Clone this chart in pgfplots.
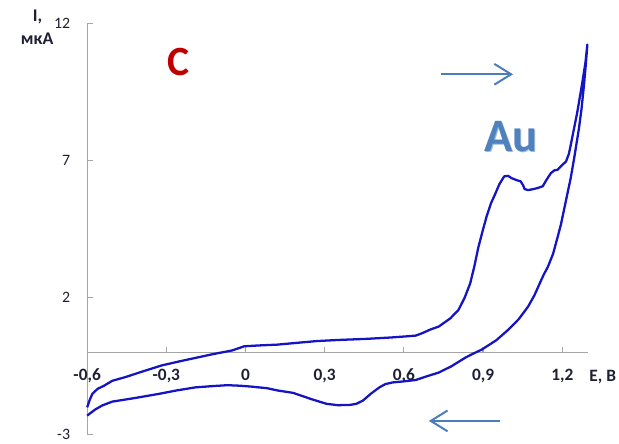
\documentclass[border=0pt]{standalone}
\usepackage{pgfplots}
\pgfplotsset{compat=1.18}
\usepackage{fontspec}
\setmainfont{Carlito}
\usetikzlibrary{arrows.meta}

\definecolor{cvblue}{HTML}{1414C4}
\definecolor{axgray}{HTML}{A6A6A6}
\definecolor{arrowblue}{HTML}{4A7EBB}
\definecolor{labred}{HTML}{C00000}
\definecolor{aublue}{HTML}{4F81BD}
\definecolor{labdark}{HTML}{1F1F33}

\begin{document}
\begin{tikzpicture}
\begin{axis}[
  scale only axis, width=505.7bp, height=415bp,
  xmin=-0.6, xmax=1.2975, ymin=-3, ymax=12,
  axis x line=middle, axis y line=left,
  axis line style={-, draw=axgray, line width=1.2bp},
  tick style={draw=axgray, line width=1.2bp},
  tick align=inside, major tick length=6bp,
  hide obscured x ticks=false,
  xtick={-0.6,-0.3,0,0.3,0.6,0.9,1.2},
  xticklabels={{-0,6},{-0,3},0,{0,3},{0,6},{0,9},{1,2}},
  ytick={-3,2,7,12}, yticklabels={-3,2,7,12},
  xticklabel style={anchor=base, yshift=-28.6bp, text=labdark,
    font=\fontsize{17.5bp}{20bp}\selectfont\bfseries},
  yticklabel style={anchor=east, inner sep=0pt, xshift=-17bp, text=labdark,
    font=\fontsize{16bp}{19bp}\selectfont},
  clip=false,
]
\coordinate (O) at (rel axis cs:0,0);
% cyclic voltammogram: anodic sweep, then cathodic return
\addplot[cvblue, line width=2.3bp, line join=round] coordinates {
(-0.6,-2.0) (-0.59,-1.72) (-0.58,-1.5) (-0.56,-1.32) (-0.536,-1.21)
(-0.505,-1.03) (-0.45,-0.88) (-0.4,-0.72) (-0.318,-0.47) (-0.25,-0.32)
(-0.13,-0.07) (-0.05,0.08) (-0.005,0.23) (0.05,0.26) (0.12,0.29)
(0.2,0.36) (0.27,0.42) (0.35,0.46) (0.457,0.5) (0.55,0.55)
(0.607,0.59) (0.645,0.62) (0.67,0.71) (0.7,0.84) (0.732,0.95)
(0.776,1.25) (0.807,1.56) (0.83,2.0) (0.851,2.52) (0.867,3.15)
(0.882,3.84) (0.9,4.5) (0.914,4.99) (0.93,5.45) (0.945,5.77)
(0.962,6.15) (0.98,6.43) (0.995,6.45) (1.007,6.37) (1.025,6.3)
(1.042,6.25) (1.052,6.1) (1.057,5.97) (1.07,5.93) (1.082,5.95)
(1.105,6.0) (1.126,6.07) (1.14,6.3) (1.157,6.55) (1.17,6.65)
(1.182,6.67) (1.2,6.85) (1.214,6.97) (1.225,7.25) (1.232,7.57)
(1.245,8.2) (1.257,8.78) (1.276,9.86) (1.288,10.6) (1.295,11.24)
(1.29,10.6) (1.282,9.74) (1.273,8.9) (1.263,8.17) (1.245,7.09)
(1.232,6.37) (1.214,5.55) (1.195,4.68) (1.182,4.2) (1.165,3.6)
(1.145,3.12) (1.13,2.85) (1.12,2.64) (1.095,2.1) (1.07,1.67)
(1.035,1.22) (0.995,0.83) (0.95,0.45) (0.895,0.11) (0.86,-0.05)
(0.832,-0.19) (0.78,-0.5) (0.732,-0.73) (0.682,-0.88) (0.645,-1.0)
(0.6,-1.05) (0.557,-1.09) (0.53,-1.15) (0.507,-1.27) (0.475,-1.5)
(0.445,-1.75) (0.42,-1.87) (0.395,-1.91) (0.35,-1.92) (0.307,-1.87)
(0.25,-1.7) (0.18,-1.47) (0.12,-1.38) (0.082,-1.3) (0.02,-1.24)
(-0.02,-1.21) (-0.068,-1.19) (-0.12,-1.22) (-0.19,-1.27) (-0.26,-1.38)
(-0.33,-1.51) (-0.42,-1.66) (-0.505,-1.79) (-0.543,-1.93) (-0.57,-2.08)
(-0.6,-2.3)
};
\end{axis}

% axis titles
\node[anchor=base, text=labdark, font=\fontsize{18bp}{20bp}\selectfont\bfseries]
  at ([shift={(-50bp,417bp)}]O) {I,};
\node[anchor=base, text=labdark, font=\fontsize{18bp}{20bp}\selectfont\bfseries]
  at ([shift={(-50.5bp,394bp)}]O) {мкА};
\node[anchor=base west, inner sep=0pt, text=labdark, font=\fontsize{17.5bp}{20bp}\selectfont\bfseries]
  at ([shift={(507bp,54bp)}]O) {E, В};

% panel letter and electrode label
\node[text=labred, font=\fontsize{42bp}{48bp}\selectfont\bfseries]
  at ([shift={(92bp,376bp)}]O) {C};
\node[text=aublue!55!white, font=\fontsize{47bp}{52bp}\selectfont\bfseries]
  at ([shift={(428.6bp,300.4bp)}]O) {Au};
\node[text=aublue, font=\fontsize{47bp}{52bp}\selectfont\bfseries]
  at ([shift={(428bp,301bp)}]O) {Au};

% sweep direction arrows
\draw[arrowblue, line width=2bp, -{Straight Barb[length=17bp,width=21bp]}]
  ([shift={(357bp,364bp)}]O) -- ([shift={(430bp,364bp)}]O);
\draw[arrowblue, line width=2bp, -{Straight Barb[length=17bp,width=21bp]}]
  ([shift={(417bp,14bp)}]O) -- ([shift={(345bp,14bp)}]O);

% page frame
\pgfresetboundingbox
\path[use as bounding box] ([shift={(-88bp,-9bp)}]O) rectangle ([shift={(537bp,439bp)}]O);
\end{tikzpicture}
\end{document}
